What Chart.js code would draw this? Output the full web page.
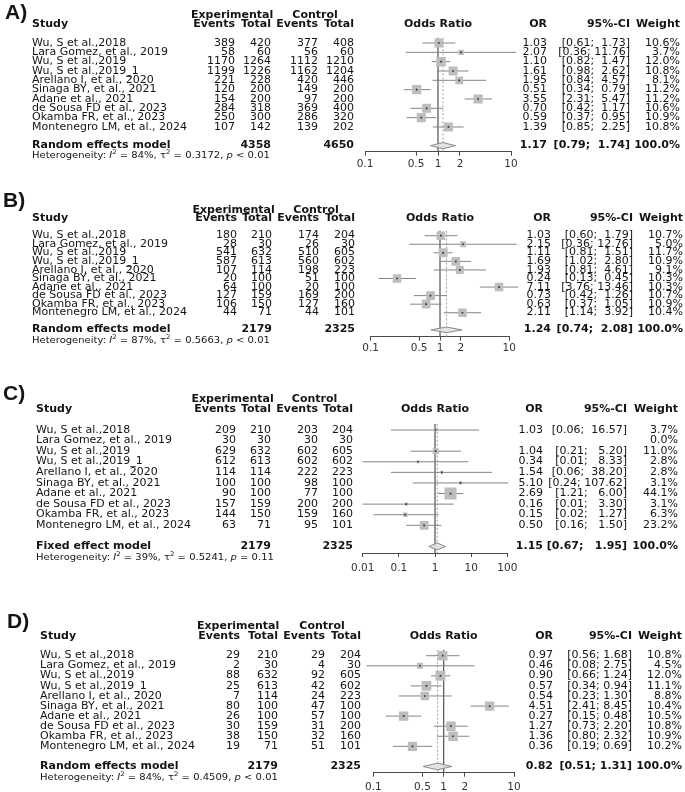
<!DOCTYPE html>
<html><head><meta charset="utf-8">
<script src="https://cdn.jsdelivr.net/npm/chart.js@4.4.1/dist/chart.umd.min.js"></script>
<style>
html,body{margin:0;padding:0;background:#fff;}
#wrap{position:relative;width:685px;height:792px;overflow:hidden;background:#fff;}
canvas{position:absolute;left:0;top:0;}
</style></head><body><div id="wrap">
<canvas id="cA" width="685" height="792"></canvas>
<canvas id="cB" width="685" height="792"></canvas>
<canvas id="cC" width="685" height="792"></canvas>
<canvas id="cD" width="685" height="792"></canvas>
</div>
<script>
// ---------------- DATA ----------------
const studies = ["Wu, S et al.,2018","Lara Gomez, et al., 2019","Wu, S et al.,2019","Wu, S et al.,2019_1","Arellano I, et al., 2020","Sinaga BY, et al., 2021","Adane et al., 2021","de Sousa FD et al., 2023","Okamba FR, et al., 2023","Montenegro LM, et al., 2024"];

// Panel A
const aExpEvents = [389,58,1170,1199,221,120,154,284,250,107];
const aExpTotal  = [420,60,1264,1226,228,200,200,318,300,142];
const aCtlEvents = [377,56,1112,1162,420,149,97,369,286,139];
const aCtlTotal  = [408,60,1210,1204,446,200,200,400,320,202];
const aOR    = [1.03,2.07,1.10,1.61,1.95,0.51,3.55,0.70,0.59,1.39];
const aLower = [0.61,0.36,0.82,0.98,0.84,0.34,2.31,0.42,0.37,0.85];
const aUpper = [1.73,11.76,1.47,2.62,4.57,0.79,5.47,1.17,0.95,2.25];
const aWeight= [10.6,3.7,12.0,10.8,8.1,11.2,11.2,10.6,10.9,10.8];

// Shared totals for panels B, C, D
const bcdExpTotal = [210,30,632,613,114,100,100,159,150,71];
const bcdCtlTotal = [204,30,605,602,223,100,100,200,160,101];

// Panel B
const bExpEvents = [180,28,541,587,107,20,64,127,106,44];
const bCtlEvents = [174,26,510,560,198,51,20,169,127,44];
const bOR    = [1.03,2.15,1.11,1.69,1.93,0.24,7.11,0.73,0.63,2.11];
const bLower = [0.60,0.36,0.81,1.02,0.81,0.13,3.76,0.42,0.37,1.14];
const bUpper = [1.79,12.76,1.51,2.80,4.61,0.45,13.46,1.26,1.05,3.92];
const bWeight= [10.7,5.0,11.7,10.9,9.1,10.3,10.3,10.7,10.9,10.4];

// Panel C
const cExpEvents = [209,30,629,612,114,100,90,157,144,63];
const cCtlEvents = [203,30,602,602,222,98,77,200,159,95];
const cOR    = [1.03,null,1.04,0.34,1.54,5.10,2.69,0.16,0.15,0.50];
const cLower = [0.06,null,0.21,0.01,0.06,0.24,1.21,0.01,0.02,0.16];
const cUpper = [16.57,null,5.20,8.33,38.20,107.62,6.00,3.30,1.27,1.50];
const cWeight= [3.7,0.0,11.0,2.8,2.8,3.1,44.1,3.1,6.3,23.2];

// Panel D
const dExpEvents = [29,2,88,25,7,80,26,30,38,19];
const dCtlEvents = [29,4,92,42,24,47,57,31,32,51];
const dOR    = [0.97,0.46,0.90,0.57,0.54,4.51,0.27,1.27,1.36,0.36];
const dLower = [0.56,0.08,0.66,0.34,0.23,2.41,0.15,0.73,0.80,0.19];
const dUpper = [1.68,2.75,1.24,0.94,1.30,8.45,0.48,2.20,2.32,0.69];
const dWeight= [10.8,4.5,12.0,11.1,8.8,10.4,10.5,10.8,10.9,10.2];

// Summaries (A, B, C, D)
const panelLabels = ["A)","B)","C)","D)"];
const modelNames  = ["Random effects model","Random effects model","Fixed effect model","Random effects model"];
const sumExpTotal = [4358,2179,2179,2179];
const sumCtlTotal = [4650,2325,2325,2325];
const sumOR    = [1.17,1.24,1.15,0.82];
const sumLower = [0.79,0.74,0.67,0.51];
const sumUpper = [1.74,2.08,1.95,1.31];
const hetI2    = ["84","87","39","84"];
const hetTau2  = ["0.3172","0.5663","0.5241","0.4509"];
const hetP     = ["< 0.01","< 0.01","= 0.11","< 0.01"];

// Tick labels
const ticksABD = [0.1,0.5,1,2,10];
const tickLabelsABD = ["0.1","0.5","1","2","10"];
const ticksC = [0.01,0.1,1,10,100];
const tickLabelsC = ["0.01","0.1","1","10","100"];

// ---------------- LAYOUT (positions/styles) ----------------
const W = 685, H = 792;
const panels = [
  {id:'cA', k:0, ev:[aExpEvents,aExpTotal,aCtlEvents,aCtlTotal], or:aOR, lo:aLower, hi:aUpper, w:aWeight,
   ticks:ticksABD, tl:tickLabelsABD, min:0.1, max:10,
   rowY0:43, step:9.33, axisY:151.7, xL:365, xR:511, studyX:32, cols:[235,271,318,354], orR:547, ciR:630, wR:680,
   labelX:5, labelBase:18.5, tickPad:2, hetIdx:12.05, hdr1:-3.0, hdr2:-2.04, sqMax:9.5},
  {id:'cB', k:1, ev:[bExpEvents,bcdExpTotal,bCtlEvents,bcdCtlTotal], or:bOR, lo:bLower, hi:bUpper, w:bWeight,
   ticks:ticksABD, tl:tickLabelsABD, min:0.1, max:10,
   rowY0:235.7, step:8.56, axisY:336.7, xL:370.7, xR:509.3, studyX:32, cols:[237,272,319,355], orR:551, ciR:633, wR:683,
   labelX:3, labelBase:207, tickPad:1, hetIdx:12.25, hdr1:-3.0, hdr2:-2.03, sqMax:9},
  {id:'cC', k:2, ev:[cExpEvents,bcdExpTotal,cCtlEvents,bcdCtlTotal], or:cOR, lo:cLower, hi:cUpper, w:cWeight,
   ticks:ticksC, tl:tickLabelsC, min:0.01, max:100,
   rowY0:430, step:10.59, axisY:553, xL:362.7, xR:507.3, studyX:36, cols:[236,271,318,353], orR:543, ciR:627, wR:678,
   labelX:3, labelBase:400, tickPad:4.5, hetIdx:12.05, hdr1:-2.93, hdr2:-1.98, sqMax:12},
  {id:'cD', k:3, ev:[dExpEvents,bcdExpTotal,dCtlEvents,bcdCtlTotal], or:dOR, lo:dLower, hi:dUpper, w:dWeight,
   ticks:ticksABD, tl:tickLabelsABD, min:0.1, max:10,
   rowY0:655.7, step:10.07, axisY:772.7, xL:373.3, xR:514, studyX:40, cols:[240,278,325,361], orR:553, ciR:632, wR:682,
   labelX:7, labelBase:628, tickPad:4, hetIdx:12.1, hdr1:-2.87, hdr2:-1.96, sqMax:10}
];
const FS = 10, HFS = 9.1, SX = 1.1, XH = 24, YMIN = -0.6;
const FAM = '"DejaVu Sans", Verdana, sans-serif';
const TXT = '#141414';

function fmtCI(lo, hi, loLen, hiLen){
  return '[' + lo.toFixed(2).padStart(loLen) + '; ' + hi.toFixed(2).padStart(hiLen) + ']';
}

function tablePlugin(P){
  return { id:'table'+P.k, afterDraw(chart){
    const ctx = chart.ctx, ys = chart.scales.y, xs = chart.scales.x;
    const Y = i => ys.getPixelForValue(i);
    const k = P.k;
    ctx.save();
    ctx.fillStyle = TXT;
    ctx.font = 'bold 21px "Liberation Sans", Arial, sans-serif';
    ctx.textAlign = 'left'; ctx.textBaseline = 'alphabetic';
    ctx.fillText(panelLabels[k], P.labelX, P.labelBase);
    ctx.textBaseline = 'middle';
    const bold = 'bold ' + FS + 'px ' + FAM, norm = FS + 'px ' + FAM;
    const txt = (s, x, y, align, font) => {
      ctx.font = font; ctx.textAlign = align;
      ctx.save(); ctx.translate(x, y); ctx.scale(SX, 1); ctx.fillText(s, 0, 0); ctx.restore();
    };
    // headers
    const h1 = Y(P.hdr1), h2 = Y(P.hdr2);
    ctx.font = bold;
    const evW = ctx.measureText('Events').width * SX;
    txt('Experimental', (P.cols[0] - evW + P.cols[1]) / 2, h1, 'center', bold);
    txt('Control', (P.cols[2] - evW + P.cols[3]) / 2, h1, 'center', bold);
    txt('Study', P.studyX, h2, 'left', bold);
    txt('Events', P.cols[0], h2, 'right', bold);
    txt('Total', P.cols[1], h2, 'right', bold);
    txt('Events', P.cols[2], h2, 'right', bold);
    txt('Total', P.cols[3], h2, 'right', bold);
    txt('Odds Ratio', xs.getPixelForValue(1), h2, 'center', bold);
    txt('OR', P.orR, h2, 'right', bold);
    txt('95%-CI', P.ciR, h2, 'right', bold);
    txt('Weight', P.wR, h2, 'right', bold);
    // widths for CI padding
    let loLen = 0, hiLen = 0;
    P.lo.concat([sumLower[k]]).forEach(v => { if (v != null) loLen = Math.max(loLen, v.toFixed(2).length); });
    P.hi.concat([sumUpper[k]]).forEach(v => { if (v != null) hiLen = Math.max(hiLen, v.toFixed(2).length); });
    // rows
    studies.forEach((s, i) => {
      const y = Y(i);
      txt(s, P.studyX, y, 'left', norm);
      for (let c = 0; c < 4; c++) txt(String(P.ev[c][i]), P.cols[c], y, 'right', norm);
      if (P.or[i] != null) {
        txt(P.or[i].toFixed(2), P.orR, y, 'right', norm);
        txt(fmtCI(P.lo[i], P.hi[i], loLen, hiLen), P.ciR, y, 'right', norm);
      }
      txt(P.w[i].toFixed(1) + '%', P.wR, y, 'right', norm);
    });
    // summary
    const ys2 = Y(11);
    txt(modelNames[k], P.studyX, ys2, 'left', bold);
    txt(String(sumExpTotal[k]), P.cols[1], ys2, 'right', bold);
    txt(String(sumCtlTotal[k]), P.cols[3], ys2, 'right', bold);
    txt(sumOR[k].toFixed(2), P.orR, ys2, 'right', bold);
    txt(fmtCI(sumLower[k], sumUpper[k], loLen, hiLen), P.ciR, ys2, 'right', bold);
    txt('100.0%', P.wR, ys2, 'right', bold);
    // heterogeneity
    const hy = Y(P.hetIdx);
    const parts = [['Heterogeneity: ','n'],['I','i'],['2','s'],[' = ' + hetI2[k] + '%, \u03c4','n'],['2','s'],[' = ' + hetTau2[k] + ', ','n'],['p','i'],[' ' + hetP[k],'n']];
    let x = P.studyX;
    parts.forEach(([t, st]) => {
      let f, yy = hy;
      if (st === 'n') f = HFS + 'px ' + FAM;
      else if (st === 'i') f = 'italic ' + HFS + 'px ' + FAM;
      else { f = (HFS * 0.7) + 'px ' + FAM; yy = hy - HFS * 0.38; }
      txt(t, x, yy, 'left', f);
      x += ctx.measureText(t).width * SX;
    });
    ctx.restore();
  }};
}

function makeChart(P){
  const k = P.k;
  const yMax = (P.axisY - P.rowY0) / P.step;
  const wmax = Math.max(...P.w);
  const ds = [];
  // vertical reference lines
  ds.push({type:'scatter', data:[{x:1,y:YMIN},{x:1,y:yMax}], showLine:true, borderColor:'#5e5e5e', borderWidth:1.3, pointRadius:0, order:6});
  ds.push({type:'scatter', data:[{x:sumOR[k],y:YMIN},{x:sumOR[k],y:yMax}], showLine:true, borderColor:'#a0a0a0', borderWidth:1, borderDash:[2,2], pointRadius:0, order:5});
  // CI lines
  P.or.forEach((o, i) => {
    if (o == null) return;
    ds.push({type:'scatter', data:[{x:P.lo[i],y:i},{x:P.hi[i],y:i}], showLine:true, borderColor:'#858585', borderWidth:1, pointRadius:0, clip:false, order:4});
  });
  // squares
  const pts = [];
  P.or.forEach((o, i) => { if (o != null) pts.push({x:o, y:i, w:P.w[i]}); });
  ds.push({type:'scatter', data:pts, pointStyle:'rect', backgroundColor:'#bdbdbd', borderWidth:0,
    pointRadius: c => c.raw ? Math.max(1.2, P.sqMax * Math.sqrt(c.raw.w / wmax)) / Math.SQRT2 : 0, order:3});
  // center marks
  ds.push({type:'scatter', data:pts.map(p => ({x:p.x, y:p.y})), pointStyle:'rect', backgroundColor:'#333', borderWidth:0, pointRadius:1.2, order:2});
  // diamond
  const dh = 0.33;
  ds.push({type:'line', data:[{x:sumLower[k],y:11},{x:sumOR[k],y:11-dh},{x:sumUpper[k],y:11},{x:sumOR[k],y:11+dh},{x:sumLower[k],y:11}],
    borderColor:'#8a8a8a', borderWidth:1, backgroundColor:'rgba(225,225,225,0.9)', fill:'shape', pointRadius:0, tension:0, order:1});

  return new Chart(document.getElementById(P.id), {
    type:'scatter',
    data:{datasets:ds},
    options:{
      responsive:false, animation:false, devicePixelRatio:1,
      layout:{padding:{left:P.xL, right:W - P.xR, top:P.rowY0 + YMIN * P.step, bottom:H - P.axisY - XH}},
      plugins:{legend:{display:false}, tooltip:{enabled:false}},
      scales:{
        x:{type:'logarithmic', min:P.min, max:P.max, position:'bottom',
          afterBuildTicks: s => { s.ticks = P.ticks.map(v => ({value:v})); },
          afterFit: s => { s.height = XH; },
          grid:{display:true, drawOnChartArea:false, drawTicks:true, tickLength:4, color:'#4a4a4a', lineWidth:1},
          border:{display:true, color:'#4a4a4a', width:1},
          ticks:{autoSkip:false, maxRotation:0, padding:P.tickPad, color:'#333', font:{family:'DejaVu Sans', size:10.5},
            callback:(v, i) => P.tl[i]}
        },
        y:{type:'linear', reverse:true, min:YMIN, max:yMax, display:false}
      }
    },
    plugins:[tablePlugin(P)]
  });
}
panels.forEach(makeChart);
</script>
</body></html>
